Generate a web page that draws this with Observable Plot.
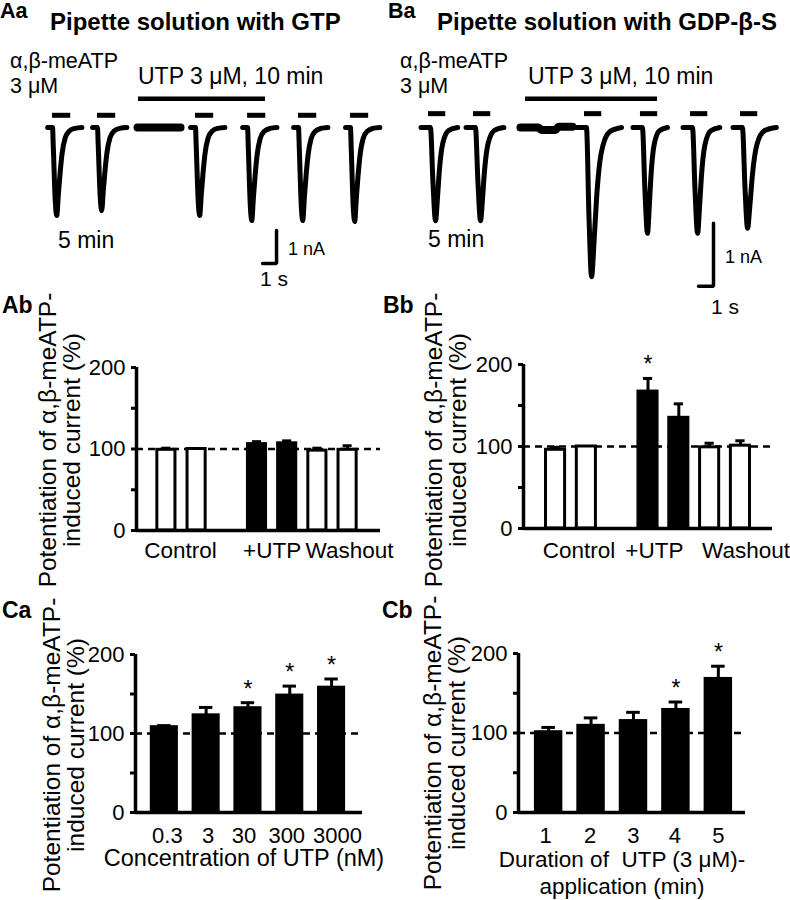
<!DOCTYPE html>
<html>
<head>
<meta charset="utf-8">
<script src="https://cdn.jsdelivr.net/npm/d3@7"></script>
<script src="https://cdn.jsdelivr.net/npm/@observablehq/plot@0.6"></script>
<style>
  html, body { margin: 0; padding: 0; background: white; }
  #fig { position: relative; width: 790px; height: 900px; background: white; overflow: hidden;
         font-family: 'Liberation Sans', Arial, Helvetica, sans-serif; color: black; }
</style>
</head>
<body>
<div id="fig"></div>
<script>
// ---------------- DATA ----------------
// Current traces (display timeline in s, current in nA). Onset = start of agonist application bar.
const aaOnset = [0.36, 3.57, 10.57, 14.29, 17.93, 21.64];
const aaPeak  = [-2.67, -2.52, -2.67, -2.82, -2.82, -2.85];
const aaShapeT = [-0.35, 0, 0.05, 0.2, 0.3, 0.42, 0.55, 0.68, 0.9, 1.2, 1.6, 2.1];
const aaShapeF = [0, 0, 0.2, 0.85, 1, 0.75, 0.5, 0.3, 0.12, 0.04, 0.01, 0];
const aaUtpAloneT = [6.43, 9.5];
const aaUtpAloneI = [0, 0];

const baOnset = [0.4, 3.4, 10.8, 14.53, 17.87, 21.2];
const baPeak  = [-1.48, -1.48, -2.37, -1.68, -1.68, -1.6];
const baStretch = [1, 1.05, 1.35, 0.9, 1, 1.3];
const baShapeT = [-0.5, 0.13, 0.3, 0.47, 0.6, 0.72, 0.95, 1.35, 1.95];
const baShapeF = [0, 0, 0.6, 1, 0.75, 0.47, 0.17, 0.03, 0];
const baUtpAloneT = [6.53, 7.73, 7.93, 8.87, 9.07, 10.0];
const baUtpAloneI = [0, 0, -0.04, -0.04, 0.01, 0.01];

// Bar charts (% potentiation, mean and SEM)
const abCategories = ["Control", "Control", "+UTP", "+UTP", "Washout", "Washout"];
const abValues = [99, 100, 106, 107, 98, 99];
const abErrors = [2, 0, 3, 3, 3, 5];
const abFilled = [false, false, true, true, false, false];
const abStars  = [false, false, false, false, false, false];

const bbCategories = ["Control", "Control", "+UTP", "+UTP", "Washout", "Washout"];
const bbValues = [96, 100, 167, 135, 99, 101];
const bbErrors = [3, 0, 16, 17, 5, 6];
const bbFilled = [false, false, true, true, false, false];
const bbStars  = [false, false, true, false, false, false];

const caCategories = ["0.3", "3", "30", "300", "3000"];
const caValues = [108, 123, 132, 148, 158];
const caErrors = [2, 10, 7, 12, 11];
const caStars  = [false, false, true, true, true];

const cbCategories = ["1", "2", "3", "4", "5"];
const cbValues = [101, 109, 115, 129, 168];
const cbErrors = [6, 10, 11, 10, 16];
const cbStars  = [false, false, false, true, true];

const yTicks = [0, 50, 100, 150, 200];

// ---------------- HELPERS ----------------
const FONT = "'Liberation Sans', Arial, Helvetica, sans-serif";
const fig = document.getElementById("fig");

function place(svg, left, top) {
  svg.style.position = "absolute";
  svg.style.left = left + "px";
  svg.style.top = top + "px";
  fig.appendChild(svg);
}
// lines: string or array of strings; baseline = baseline of the first line; lh = line spacing
function txt(lines, x, baseline, {size = 23, bold = false, anchor = "start", lh = null} = {}) {
  const arr = Array.isArray(lines) ? lines : [lines];
  const d = document.createElement("div");
  arr.forEach((s, k) => {
    if (k) d.appendChild(document.createElement("br"));
    d.appendChild(document.createTextNode(s));
  });
  const L = lh || 0.8 * size;
  const off = (L - 1.117 * size) / 2 + 0.905 * size;
  Object.assign(d.style, {
    position: "absolute", left: x + "px", top: (baseline - off) + "px",
    fontSize: size + "px", lineHeight: L + "px", fontWeight: bold ? "bold" : "normal",
    whiteSpace: "pre",
    textAlign: anchor === "middle" ? "center" : anchor === "end" ? "right" : "left",
    transform: anchor === "middle" ? "translateX(-50%)" : anchor === "end" ? "translateX(-100%)" : "none"
  });
  fig.appendChild(d);
}
function ytitle(lines, cx, cy) {
  const d = document.createElement("div");
  d.innerHTML = lines.join("<br>");
  Object.assign(d.style, {
    position: "absolute", left: cx + "px", top: cy + "px", fontSize: "24.5px", lineHeight: "23.5px",
    textAlign: "center", whiteSpace: "nowrap", transform: "translate(-50%,-50%) rotate(-90deg)"
  });
  fig.appendChild(d);
}
const plotStyle = {background: "transparent", fontFamily: FONT, fontSize: "22px", color: "black", overflow: "visible"};

// ---------------- TRACE PANELS ----------------
function tracePanel({onset, peak, shapeT, shapeF, stretch, aloneT, aloneI, markerLevel, markerDur,
                     utp, scale, width, height, x0px, pxPerS, basePx, pxPerNA, left, top}) {
  const pts = [];
  const tipT = shapeT[shapeF.indexOf(1)];
  onset.forEach((o, k) => {
    const s = stretch ? stretch[k] : 1;
    shapeT.forEach((t, j) => {
      const tt = t > tipT ? tipT + (t - tipT) * s : t;
      pts.push({trace: k, t: o + tt, i: peak[k] * shapeF[j]});
    });
  });
  const alone = aloneT.map((t, j) => ({t, i: aloneI[j]}));
  const sb = [
    {t: scale.t, i: scale.i + 1}, {t: scale.t, i: scale.i}, {t: scale.t - 1, i: scale.i}
  ];
  const svg = Plot.plot({
    width, height, margin: 0, style: plotStyle,
    x: {domain: [-x0px / pxPerS, (width - x0px) / pxPerS], range: [0, width], axis: null},
    y: {domain: [-(height - basePx) / pxPerNA, basePx / pxPerNA], range: [height, 0], axis: null},
    marks: [
      Plot.line(pts, {x: "t", y: "i", z: "trace", stroke: "black", strokeWidth: 5,
                      strokeLinejoin: "round", strokeLinecap: "round", curve: "monotone-x"}),
      Plot.line(alone, {x: "t", y: "i", stroke: "black", strokeWidth: 8, curve: "monotone-x"}),
      Plot.ruleY(onset, {y: markerLevel, x1: d => d, x2: d => d + markerDur, stroke: "black", strokeWidth: 5}),
      Plot.ruleY([utp], {y: d => d.level, x1: d => d.start, x2: d => d.end, stroke: "black", strokeWidth: 4.5}),
      Plot.line(sb, {x: "t", y: "i", stroke: "black", strokeWidth: 3.5, strokeLinejoin: "miter"})
    ]
  });
  place(svg, left, top);
}

tracePanel({onset: aaOnset, peak: aaPeak, shapeT: aaShapeT, shapeF: aaShapeF, stretch: null,
  aloneT: aaUtpAloneT, aloneI: aaUtpAloneI, markerLevel: 0.37, markerDur: 1.3,
  utp: {start: 6.5, end: 15.57, level: 0.87}, scale: {t: 16.36, i: -4.12},
  width: 395, height: 300, x0px: 47, pxPerS: 14, basePx: 127, pxPerNA: 33, left: 0, top: 0});

tracePanel({onset: baOnset, peak: baPeak, shapeT: baShapeT, shapeF: baShapeF, stretch: baStretch,
  aloneT: baUtpAloneT, aloneI: baUtpAloneI, markerLevel: 0.22, markerDur: 1.15,
  utp: {start: 6.87, end: 15.67, level: 0.456}, scale: {t: 19.4, i: -2.52},
  width: 395, height: 320, x0px: 27, pxPerS: 15, basePx: 127, pxPerNA: 63, left: 395, top: 0});

// ---------------- BAR PANELS ----------------
function barPanel({categories, values, errors, filled, stars, slotOf, xDomain, half, cap,
                   left, top, width, height, mL, mR, mT, mB, groups, tickDx}) {
  const data = values.map((v, i) => ({slot: slotOf(i), v, e: errors[i], filled: filled ? filled[i] : true,
                                       star: stars[i], label: categories[i]}));
  const withErr = data.filter(d => d.e > 0);
  const marks = [
    Plot.ruleY([100], {stroke: "black", strokeDasharray: "7,5", strokeWidth: 2.5}),
    Plot.rect(data.filter(d => !d.filled), {x1: d => d.slot - half, x2: d => d.slot + half, y1: 0, y2: "v",
                                            fill: "white", stroke: "black", strokeWidth: 3}),
    Plot.rect(data.filter(d => d.filled), {x1: d => d.slot - half, x2: d => d.slot + half, y1: 0, y2: "v",
                                           fill: "black", stroke: "black", strokeWidth: 3}),
    Plot.ruleX(withErr, {x: "slot", y1: "v", y2: d => d.v + d.e, stroke: "black", strokeWidth: 3}),
    Plot.ruleY(withErr, {y: d => d.v + d.e, x1: d => d.slot - cap, x2: d => d.slot + cap, stroke: "black", strokeWidth: 3}),
    Plot.text(data.filter(d => d.star), {x: "slot", y: d => d.v + d.e, text: () => "*", lineAnchor: "bottom",
                                         dy: -6, fontSize: 23, fill: "black"}),
    Plot.ruleY([0], {stroke: "black", strokeWidth: 3.5}),
    Plot.ruleX([xDomain[0]], {y1: 0, y2: 200, stroke: "black", strokeWidth: 3.5}),
    Plot.axisY({ticks: yTicks, tickFormat: d => (d % 100 === 0 ? String(d) : ""), tickSize: 5, tickPadding: 6,
                strokeWidth: 3, fontSize: 22, label: null, fill: "black"})
  ];
  if (tickDx) {
    data.forEach((d, i) => {
      marks.push(Plot.text([d], {x: "slot", y: 0, text: "label", lineAnchor: "bottom", dx: tickDx[i], dy: 30,
                                 fontSize: 22, fill: "black"}));
    });
  }
  if (groups) {
    const names = [...new Set(categories)];
    names.forEach((name, gi) => {
      const members = data.filter(d => d.label === name);
      const center = d3.mean(members, d => d.slot);
      marks.push(Plot.text([{center, name}], {x: "center", y: 0, text: "name", lineAnchor: "bottom",
                                              dx: groups.dx[gi], dy: groups.dy, fontSize: 22.5, fill: "black"}));
    });
  }
  const svg = Plot.plot({
    width, height, marginLeft: mL, marginRight: mR, marginTop: mT, marginBottom: mB, style: plotStyle,
    x: {domain: xDomain, axis: null},
    y: {domain: [0, 200]},
    marks
  });
  place(svg, left, top);
}

const gapAfterTwo = i => i + (i >= 2 ? 1 : 0);

barPanel({categories: abCategories, values: abValues, errors: abErrors, filled: abFilled, stars: abStars,
  slotOf: gapAfterTwo, xDomain: [-0.99, 7.09], half: 0.3, cap: 0.15,
  left: 80, top: 340, width: 315, height: 230, mL: 56, mR: 15, mT: 27, mB: 40,
  groups: {dx: [-1, 0, 17], dy: 27}});

barPanel({categories: bbCategories, values: bbValues, errors: bbErrors, filled: bbFilled, stars: bbStars,
  slotOf: gapAfterTwo, xDomain: [-1.04, 7.04], half: 0.31, cap: 0.15,
  left: 465, top: 340, width: 325, height: 230, mL: 58, mR: 18, mT: 24, mB: 42,
  groups: {dx: [8, -9, 21], dy: 29}});

barPanel({categories: caCategories, values: caValues, errors: caErrors, filled: null, stars: caStars,
  slotOf: i => i, xDomain: [-0.69, 4.74], half: 0.3, cap: 0.16,
  left: 80, top: 620, width: 315, height: 250, mL: 55, mR: 33, mT: 34, mB: 58,
  tickDx: [3, 2, -4, -3, 6]});

barPanel({categories: cbCategories, values: cbValues, errors: cbErrors, filled: null, stars: cbStars,
  slotOf: i => i, xDomain: [-0.71, 4.64], half: 0.3, cap: 0.16,
  left: 460, top: 620, width: 330, height: 250, mL: 58, mR: 45, mT: 33, mB: 58,
  tickDx: [-3, -1, 0, -1, 0]});

// ---------------- TEXT ----------------
txt("Aa", 0, 19, {bold: true, size: 21.5});
txt("Pipette solution with GTP", 50, 30, {bold: true, size: 24});
txt("Ba", 388, 19, {bold: true, size: 21.5});
txt("Pipette solution with GDP-β-S", 437, 30, {bold: true, size: 24});

txt(["α,β-meATP", "3 μM"], 10, 69, {size: 21.5, lh: 24.3});
txt(["α,β-meATP", "3 μM"], 400, 69, {size: 21.5, lh: 24.3});
txt("UTP 3 μM, 10 min", 138, 84);
txt("UTP 3 μM, 10 min", 528, 84);
txt("5 min", 58, 248);
txt("5 min", 428, 247);
txt("1 nA", 288, 255, {size: 18});
txt("1 nA", 725, 263, {size: 18});
txt("1 s", 260, 287, {size: 21});
txt("1 s", 711, 315, {size: 21});

txt("Ab", 2, 313, {bold: true});
txt("Bb", 383, 313, {bold: true});
txt("Ca", 2, 618, {bold: true});
txt("Cb", 382, 618, {bold: true});

const yTitle = ["Potentiation of α,β-meATP-", "induced current (%)"];
ytitle(yTitle, 59, 440);
ytitle(yTitle, 445, 440);
ytitle(yTitle, 63, 745);
ytitle(yTitle, 444, 743);

txt("Concentration of UTP (nM)", 244, 867, {size: 23.5, anchor: "middle"});
txt(["Duration of  UTP (3 μM)-", "application (min)"], 622, 867, {size: 22.5, anchor: "middle", lh: 27});
</script>
</body>
</html>
